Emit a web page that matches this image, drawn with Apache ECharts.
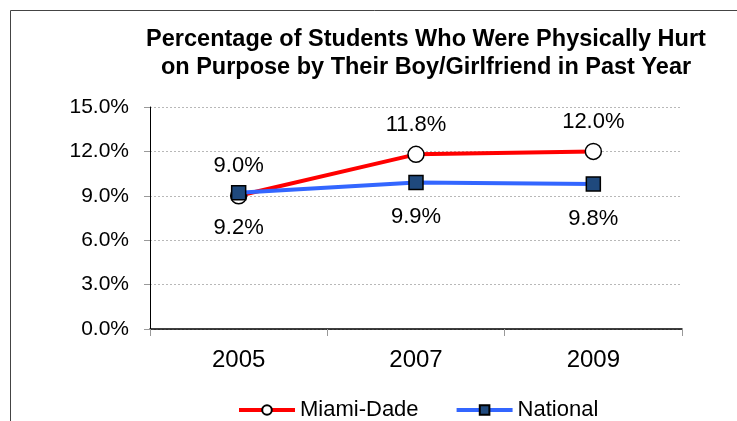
<!DOCTYPE html>
<html>
<head>
<meta charset="utf-8">
<script src="https://cdn.jsdelivr.net/npm/echarts@6/dist/echarts.min.js"></script>
<style>
  html, body { margin: 0; padding: 0; background: #fff; }
  #chart { width: 737px; height: 421px; }
</style>
</head>
<body>
<div id="chart"></div>
<script>
const titleText = 'Percentage of Students Who Were Physically Hurt\non Purpose by Their Boy/Girlfriend in Past Year'
const years = ['2005', '2007', '2009']
const miamiDade = [9.0, 11.8, 12.0]
const national = [9.2, 9.9, 9.8]
const yTicks = { min: 0, max: 15, interval: 3 }

const font = 'Liberation Sans, Arial, sans-serif'
const pct = (p) => p.value.toFixed(1) + '%'

const chart = echarts.init(document.getElementById('chart'))
chart.setOption({
  animation: false,
  textStyle: { fontFamily: font },
  graphic: [
    {
      // outer frame, right/bottom edges run off the picture
      type: 'rect',
      shape: { x: 10.5, y: 10.5, width: 900, height: 600 },
      style: { fill: 'none', stroke: '#444', lineWidth: 1 },
      silent: true
    }
  ],
  title: {
    text: titleText,
    left: 421,
    top: 21,
    textAlign: 'center',
    textStyle: {
      fontFamily: font,
      fontSize: 23.5,
      fontWeight: 'bold',
      color: '#000',
      lineHeight: 28
    }
  },
  legend: {
    top: 394,
    left: 232,
    itemWidth: 56,
    itemHeight: 12,
    itemGap: 36,
    lineStyle: { width: 4 },
    textStyle: { fontFamily: font, fontSize: 22, color: '#000' },
    data: ['Miami-Dade', 'National']
  },
  grid: { left: 150, right: 55, top: 107, bottom: 92 },
  xAxis: {
    type: 'category',
    data: years,
    boundaryGap: true,
    axisLine: { lineStyle: { color: '#000', width: 1.5 } },
    axisTick: { show: true, length: 7, lineStyle: { color: '#999' } },
    axisLabel: { fontSize: 24, color: '#000', margin: 19 }
  },
  yAxis: {
    type: 'value',
    min: yTicks.min,
    max: yTicks.max,
    interval: yTicks.interval,
    axisLine: { show: true, lineStyle: { color: '#000', width: 1 } },
    axisTick: { show: true, length: 6, lineStyle: { color: '#999' } },
    axisLabel: {
      fontSize: 21,
      color: '#000',
      margin: 21,
      formatter: (v) => v.toFixed(1) + '%'
    },
    splitLine: { lineStyle: { color: '#b8b8b8', type: [2, 2], width: 1 } }
  },
  series: [
    {
      name: 'Miami-Dade',
      type: 'line',
      data: miamiDade,
      z: 2,
      symbol: 'circle',
      symbolSize: 16,
      lineStyle: { color: '#ff0000', width: 4 },
      itemStyle: { color: '#ffffff', borderColor: '#000', borderWidth: 1.5 },
      label: {
        show: true,
        position: 'top',
        distance: 10,
        fontSize: 22,
        color: '#000',
        formatter: pct
      }
    },
    {
      name: 'National',
      type: 'line',
      data: national,
      z: 3,
      symbol: 'rect',
      symbolSize: 14,
      lineStyle: { color: '#3366ff', width: 4 },
      itemStyle: { color: '#1f497d', borderColor: '#000', borderWidth: 1.5 },
      label: {
        show: true,
        position: 'bottom',
        distance: 16,
        fontSize: 22,
        color: '#000',
        formatter: pct
      }
    }
  ]
})
</script>
</body>
</html>
